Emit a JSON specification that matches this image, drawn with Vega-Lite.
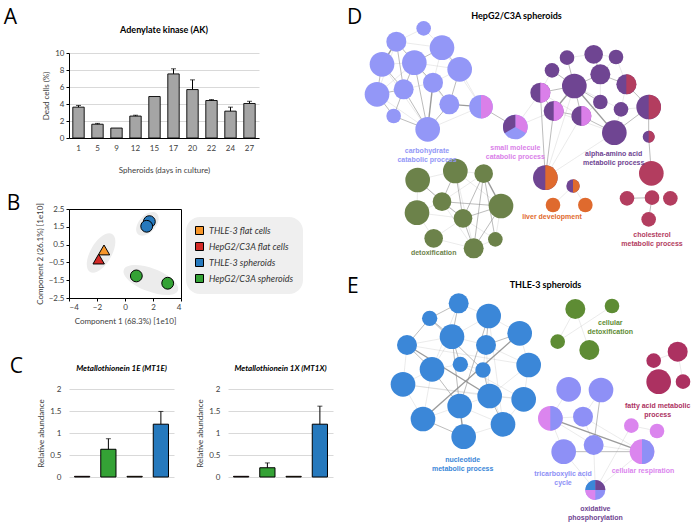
{
"$schema": "https://vega.github.io/schema/vega-lite/v6.json",
"background": "white",
"padding": {"left": 3, "top": 7, "right": 0, "bottom": 0},
"config": {
  "view": {"stroke": null},
  "font": "Lato",
  "axis": {"labelFont": "Lato", "titleFont": "Lato", "labelFontSize": 8, "titleFontSize": 8, "titleFontWeight": "normal", "labelColor": "#404040", "titleColor": "#404040", "labelOverlap": false},
  "title": {"font": "Lato", "color": "black"}
},
"datasets": {
  "ak": [
    {"day": "1", "dead": 3.63, "hi": 3.83},
    {"day": "5", "dead": 1.62, "hi": 1.72},
    {"day": "9", "dead": 1.17, "hi": null},
    {"day": "12", "dead": 2.58, "hi": 2.68},
    {"day": "15", "dead": 4.88, "hi": null},
    {"day": "17", "dead": 7.54, "hi": 8.14},
    {"day": "20", "dead": 5.7, "hi": 6.84},
    {"day": "22", "dead": 4.41, "hi": 4.52},
    {"day": "24", "dead": 3.16, "hi": 3.63},
    {"day": "27", "dead": 4.06, "hi": 4.32}
  ],
  "pca": [
    {"grp": "THLE-3 flat cells", "kind": "flat", "x": -1.5, "y": 0.2},
    {"grp": "HepG2/C3A flat cells", "kind": "flat", "x": -1.88, "y": -0.31},
    {"grp": "THLE-3 spheroids", "kind": "spheroid", "x": 1.74, "y": 1.79},
    {"grp": "THLE-3 spheroids", "kind": "spheroid", "x": 1.55, "y": 1.53},
    {"grp": "HepG2/C3A spheroids", "kind": "spheroid", "x": 0.81, "y": -1.26},
    {"grp": "HepG2/C3A spheroids", "kind": "spheroid", "x": 3.05, "y": -1.67}
  ],
  "ell": [
    {"grp": "tri", "x": -1.71, "y": 0.03},
    {"grp": "blue", "x": 1.6, "y": 1.66},
    {"grp": "green", "x": 1.85, "y": -1.49}
  ],
  "mt": [
    {"gene": "MT1E", "grp": "HepG2/C3A flat cells", "val": 0.015, "hi": null},
    {"gene": "MT1E", "grp": "HepG2/C3A spheroids", "val": 0.63, "hi": 0.87},
    {"gene": "MT1E", "grp": "THLE-3 flat cells", "val": 0.015, "hi": null},
    {"gene": "MT1E", "grp": "THLE-3 spheroids", "val": 1.2, "hi": 1.49},
    {"gene": "MT1X", "grp": "HepG2/C3A flat cells", "val": 0.015, "hi": null},
    {"gene": "MT1X", "grp": "HepG2/C3A spheroids", "val": 0.21, "hi": 0.32},
    {"gene": "MT1X", "grp": "THLE-3 flat cells", "val": 0.015, "hi": null},
    {"gene": "MT1X", "grp": "THLE-3 spheroids", "val": 1.2, "hi": 1.61}
  ],
  "dn": [
    {"id":"c1","x":260,"y":82,"genes":48,"grp":"carb"},
    {"id":"c2","x":178,"y":122,"genes":90,"grp":"carb"},
    {"id":"c3","x":315,"y":140,"genes":137,"grp":"carb"},
    {"id":"c4","x":135,"y":190,"genes":137,"grp":"carb"},
    {"id":"c5","x":232,"y":185,"genes":137,"grp":"carb"},
    {"id":"c6","x":368,"y":205,"genes":137,"grp":"carb"},
    {"id":"c7","x":288,"y":245,"genes":90,"grp":"carb"},
    {"id":"c8","x":200,"y":265,"genes":90,"grp":"carb"},
    {"id":"c9","x":120,"y":280,"genes":137,"grp":"carb"},
    {"id":"c10","x":337,"y":310,"genes":90,"grp":"carb"},
    {"id":"c11","x":170,"y":345,"genes":48,"grp":"carb"},
    {"id":"c12","x":272,"y":385,"genes":137,"grp":"carb"},
    {"id":"c13","x":432,"y":317,"genes":125,"grp":"carb"},
    {"id":"s1","x":535,"y":378,"genes":137,"grp":"carb"},
    {"id":"a1","x":690,"y":170,"genes":48,"grp":"aa"},
    {"id":"a2","x":770,"y":160,"genes":78,"grp":"aa"},
    {"id":"a3","x":837,"y":168,"genes":48,"grp":"aa"},
    {"id":"a4","x":645,"y":208,"genes":48,"grp":"aa"},
    {"id":"a5","x":790,"y":220,"genes":90,"grp":"aa"},
    {"id":"a6","x":712,"y":255,"genes":137,"grp":"aa"},
    {"id":"a7","x":868,"y":250,"genes":90,"grp":"aa"},
    {"id":"a8","x":610,"y":275,"genes":90,"grp":"aa"},
    {"id":"a9","x":790,"y":303,"genes":48,"grp":"aa"},
    {"id":"a10","x":852,"y":325,"genes":48,"grp":"aa"},
    {"id":"a11","x":650,"y":330,"genes":90,"grp":"aa"},
    {"id":"a12","x":733,"y":345,"genes":90,"grp":"aa"},
    {"id":"a13","x":935,"y":318,"genes":137,"grp":"aa"},
    {"id":"a14","x":832,"y":395,"genes":137,"grp":"aa"},
    {"id":"a15","x":935,"y":407,"genes":32,"grp":"aa"},
    {"id":"l1","x":625,"y":530,"genes":137,"grp":"aa"},
    {"id":"l2","x":708,"y":555,"genes":40,"grp":"aa"},
    {"id":"l3","x":648,"y":612,"genes":48,"grp":"liver"},
    {"id":"l4","x":745,"y":612,"genes":48,"grp":"liver"},
    {"id":"h1","x":943,"y":517,"genes":137,"grp":"chol"},
    {"id":"h2","x":870,"y":592,"genes":48,"grp":"chol"},
    {"id":"h3","x":945,"y":590,"genes":48,"grp":"chol"},
    {"id":"h4","x":1000,"y":592,"genes":48,"grp":"chol"},
    {"id":"h5","x":935,"y":655,"genes":48,"grp":"chol"},
    {"id":"g1","x":242,"y":537,"genes":137,"grp":"detox"},
    {"id":"g2","x":355,"y":510,"genes":137,"grp":"detox"},
    {"id":"g3","x":440,"y":518,"genes":78,"grp":"detox"},
    {"id":"g4","x":240,"y":635,"genes":137,"grp":"detox"},
    {"id":"g5","x":315,"y":602,"genes":78,"grp":"detox"},
    {"id":"g6","x":378,"y":652,"genes":78,"grp":"detox"},
    {"id":"g7","x":492,"y":615,"genes":137,"grp":"detox"},
    {"id":"g8","x":290,"y":712,"genes":78,"grp":"detox"},
    {"id":"g9","x":475,"y":715,"genes":48,"grp":"detox"},
    {"id":"g10","x":410,"y":742,"genes":90,"grp":"detox"}
  ],
  "de": [
    {"s":"c1","t":"c2","w":1},{"s":"c1","t":"c3","w":1},{"s":"c2","t":"c3","w":1},{"s":"c2","t":"c4","w":3},
    {"s":"c2","t":"c5","w":2},{"s":"c2","t":"c8","w":2},{"s":"c3","t":"c5","w":2},{"s":"c3","t":"c6","w":2},
    {"s":"c3","t":"c7","w":1},{"s":"c3","t":"c13","w":1},{"s":"c4","t":"c5","w":1},{"s":"c4","t":"c8","w":2},
    {"s":"c4","t":"c9","w":2},{"s":"c4","t":"c12","w":1},{"s":"c5","t":"c6","w":1},{"s":"c5","t":"c7","w":2},
    {"s":"c5","t":"c8","w":2},{"s":"c5","t":"c12","w":2},{"s":"c5","t":"c10","w":1},{"s":"c6","t":"c7","w":1},
    {"s":"c6","t":"c10","w":2},{"s":"c6","t":"c13","w":1},{"s":"c7","t":"c8","w":1},{"s":"c7","t":"c10","w":2},
    {"s":"c7","t":"c12","w":3},{"s":"c8","t":"c9","w":2},{"s":"c8","t":"c11","w":2},{"s":"c8","t":"c12","w":2},
    {"s":"c9","t":"c11","w":2},{"s":"c9","t":"c12","w":1},{"s":"c10","t":"c12","w":2},{"s":"c10","t":"c13","w":3},
    {"s":"c11","t":"c12","w":2},{"s":"c12","t":"c13","w":1},{"s":"c2","t":"c9","w":1},{"s":"c9","t":"c5","w":1},
    {"s":"c13","t":"s1","w":2},{"s":"s1","t":"a8","w":1},{"s":"s1","t":"a11","w":1},
    {"s":"a1","t":"a2","w":1},{"s":"a1","t":"a6","w":2},{"s":"a2","t":"a3","w":1},{"s":"a2","t":"a5","w":2},
    {"s":"a3","t":"a5","w":1},{"s":"a3","t":"a7","w":1},{"s":"a4","t":"a6","w":2},{"s":"a4","t":"a8","w":1},
    {"s":"a5","t":"a6","w":2},{"s":"a5","t":"a7","w":2},{"s":"a5","t":"a9","w":1},{"s":"a6","t":"a8","w":2},
    {"s":"a6","t":"a9","w":2},{"s":"a6","t":"a11","w":3},{"s":"a6","t":"a12","w":2},{"s":"a6","t":"a14","w":3},
    {"s":"a6","t":"a10","w":1},{"s":"a7","t":"a10","w":1},{"s":"a7","t":"a13","w":2},{"s":"a8","t":"a11","w":2},
    {"s":"a8","t":"a12","w":1},{"s":"a9","t":"a12","w":1},{"s":"a10","t":"a13","w":1},{"s":"a10","t":"a14","w":1},
    {"s":"a11","t":"a12","w":2},{"s":"a11","t":"a14","w":1},{"s":"a12","t":"a14","w":2},{"s":"a13","t":"a14","w":2},
    {"s":"a13","t":"a15","w":2},
    {"s":"l1","t":"a8","w":2},{"s":"l1","t":"a11","w":2},{"s":"l1","t":"a12","w":1},{"s":"l1","t":"a14","w":1},
    {"s":"l1","t":"a6","w":1},{"s":"l2","t":"l3","w":1},{"s":"l2","t":"l4","w":1},
    {"s":"a15","t":"h1","w":2},{"s":"h2","t":"h3","w":2},{"s":"h3","t":"h5","w":2},
    {"s":"g1","t":"g2","w":1},{"s":"g1","t":"g4","w":1},{"s":"g1","t":"g5","w":2},{"s":"g2","t":"g3","w":1},
    {"s":"g2","t":"g5","w":2},{"s":"g2","t":"g6","w":2},{"s":"g2","t":"g7","w":1},{"s":"g3","t":"g5","w":1},
    {"s":"g3","t":"g6","w":2},{"s":"g3","t":"g7","w":3},{"s":"g3","t":"g9","w":2},{"s":"g3","t":"g10","w":2},
    {"s":"g4","t":"g5","w":1},{"s":"g4","t":"g8","w":1},{"s":"g4","t":"g6","w":1},{"s":"g5","t":"g6","w":2},
    {"s":"g5","t":"g7","w":2},{"s":"g5","t":"g10","w":1},{"s":"g6","t":"g7","w":2},{"s":"g6","t":"g8","w":1},
    {"s":"g6","t":"g9","w":1},{"s":"g6","t":"g10","w":2},{"s":"g7","t":"g9","w":1},{"s":"g7","t":"g10","w":2},
    {"s":"g8","t":"g10","w":1},{"s":"g9","t":"g10","w":1},{"s":"g1","t":"g6","w":1},{"s":"g2","t":"g10","w":1}
  ],
  "dp": [
    {"id":"c13","part":"R","grp":"smc"},
    {"id":"a7","part":"R","grp":"chol"},
    {"id":"a8","part":"R","grp":"smc"},
    {"id":"a11","part":"R","grp":"smc"},
    {"id":"a12","part":"R","grp":"smc"},
    {"id":"a13","part":"R","grp":"chol"},
    {"id":"a15","part":"R","grp":"chol"},
    {"id":"l1","part":"R","grp":"liver"},
    {"id":"l2","part":"R","grp":"liver"},
    {"id":"s1","part":"W1","grp":"smc"},
    {"id":"s1","part":"W3","grp":"aa"}
  ],
  "dl": [
    {"label":"carbohydrate\ncatabolic process","x":270,"y":450,"grp":"carb"},
    {"label":"small molecule\ncatabolic process","x":535,"y":442,"grp":"smc"},
    {"label":"alpha-amino acid\nmetabolic process","x":830,"y":458,"grp":"aa"},
    {"label":"liver development","x":645,"y":647,"grp":"liver"},
    {"label":"cholesterol\nmetabolic process","x":945,"y":703,"grp":"chol"},
    {"label":"detoxification","x":290,"y":757,"grp":"detox"}
  ],
  "en": [
    {"id":"n1","x":365,"y":100,"genes":90,"grp":"nuc"},
    {"id":"n2","x":278,"y":145,"genes":53,"grp":"nuc"},
    {"id":"n3","x":455,"y":138,"genes":137,"grp":"nuc"},
    {"id":"n4","x":345,"y":200,"genes":137,"grp":"nuc"},
    {"id":"n5","x":210,"y":225,"genes":90,"grp":"nuc"},
    {"id":"n6","x":447,"y":225,"genes":90,"grp":"nuc"},
    {"id":"n7","x":548,"y":190,"genes":137,"grp":"nuc"},
    {"id":"n8","x":370,"y":283,"genes":53,"grp":"nuc"},
    {"id":"n9","x":285,"y":298,"genes":137,"grp":"nuc"},
    {"id":"n10","x":438,"y":300,"genes":53,"grp":"nuc"},
    {"id":"n11","x":575,"y":285,"genes":137,"grp":"nuc"},
    {"id":"n12","x":198,"y":343,"genes":137,"grp":"nuc"},
    {"id":"n13","x":458,"y":378,"genes":137,"grp":"nuc"},
    {"id":"n14","x":368,"y":408,"genes":137,"grp":"nuc"},
    {"id":"n15","x":560,"y":388,"genes":137,"grp":"nuc"},
    {"id":"n16","x":258,"y":447,"genes":137,"grp":"nuc"},
    {"id":"n17","x":498,"y":463,"genes":137,"grp":"nuc"},
    {"id":"n18","x":380,"y":500,"genes":137,"grp":"nuc"},
    {"id":"e1","x":715,"y":117,"genes":90,"grp":"cdetox"},
    {"id":"e2","x":825,"y":108,"genes":48,"grp":"cdetox"},
    {"id":"e3","x":662,"y":215,"genes":48,"grp":"cdetox"},
    {"id":"e4","x":757,"y":240,"genes":90,"grp":"cdetox"},
    {"id":"f1","x":950,"y":272,"genes":48,"grp":"fatty"},
    {"id":"f2","x":1022,"y":245,"genes":90,"grp":"fatty"},
    {"id":"f3","x":965,"y":335,"genes":137,"grp":"fatty"},
    {"id":"f4","x":1038,"y":335,"genes":48,"grp":"fatty"},
    {"id":"t1","x":695,"y":358,"genes":137,"grp":"tca"},
    {"id":"t2","x":792,"y":360,"genes":137,"grp":"tca"},
    {"id":"t3","x":640,"y":445,"genes":137,"grp":"resp"},
    {"id":"t4","x":738,"y":440,"genes":90,"grp":"tca"},
    {"id":"t5","x":680,"y":545,"genes":137,"grp":"tca"},
    {"id":"t6","x":770,"y":525,"genes":90,"grp":"tca"},
    {"id":"r1","x":883,"y":467,"genes":48,"grp":"resp"},
    {"id":"r2","x":960,"y":483,"genes":48,"grp":"resp"},
    {"id":"r3","x":915,"y":545,"genes":137,"grp":"resp"},
    {"id":"o1","x":775,"y":660,"genes":90,"grp":"tca"}
  ],
  "ee": [
    {"s":"n1","t":"n2","w":2},{"s":"n1","t":"n3","w":1},{"s":"n1","t":"n4","w":2},{"s":"n2","t":"n4","w":2},
    {"s":"n2","t":"n5","w":2},{"s":"n3","t":"n4","w":1},{"s":"n3","t":"n6","w":2},{"s":"n3","t":"n7","w":1},
    {"s":"n4","t":"n5","w":1},{"s":"n4","t":"n6","w":1},{"s":"n4","t":"n8","w":2},{"s":"n4","t":"n9","w":1},
    {"s":"n5","t":"n9","w":2},{"s":"n5","t":"n12","w":1},{"s":"n5","t":"n13","w":3},{"s":"n6","t":"n7","w":2},
    {"s":"n6","t":"n10","w":1},{"s":"n6","t":"n11","w":1},{"s":"n7","t":"n11","w":1},{"s":"n7","t":"n16","w":3},
    {"s":"n8","t":"n9","w":1},{"s":"n8","t":"n10","w":1},{"s":"n9","t":"n12","w":1},{"s":"n9","t":"n14","w":2},
    {"s":"n9","t":"n16","w":1},{"s":"n10","t":"n13","w":2},{"s":"n11","t":"n13","w":1},{"s":"n11","t":"n15","w":1},
    {"s":"n12","t":"n16","w":1},{"s":"n13","t":"n14","w":1},{"s":"n13","t":"n15","w":1},{"s":"n13","t":"n17","w":2},
    {"s":"n14","t":"n16","w":1},{"s":"n14","t":"n17","w":1},{"s":"n14","t":"n18","w":3},{"s":"n15","t":"n17","w":1},
    {"s":"n16","t":"n18","w":2},{"s":"n17","t":"n18","w":1},{"s":"n2","t":"n10","w":2},{"s":"n4","t":"n14","w":2},
    {"s":"n3","t":"n14","w":2},{"s":"n1","t":"n9","w":1},{"s":"n6","t":"n13","w":1},{"s":"n12","t":"n13","w":1},
    {"s":"n10","t":"n17","w":1},{"s":"n5","t":"n11","w":1},{"s":"n8","t":"n15","w":1},{"s":"n3","t":"n17","w":1},
    {"s":"n12","t":"n15","w":1},
    {"s":"e1","t":"e3","w":1},{"s":"e1","t":"e4","w":1},{"s":"e2","t":"e3","w":1},
    {"s":"f1","t":"f2","w":1},{"s":"f2","t":"f4","w":1},
    {"s":"t1","t":"t3","w":1},{"s":"t2","t":"t4","w":1},{"s":"t2","t":"t6","w":2},{"s":"t3","t":"t4","w":1},
    {"s":"t3","t":"t5","w":1},{"s":"t3","t":"r3","w":3},{"s":"t4","t":"t6","w":1},{"s":"t5","t":"r3","w":2},
    {"s":"t6","t":"r3","w":1},{"s":"t4","t":"r3","w":1},{"s":"r1","t":"r2","w":1},{"s":"r3","t":"o1","w":1},
    {"s":"t5","t":"o1","w":1},{"s":"t6","t":"o1","w":1},{"s":"r1","t":"o1","w":1},{"s":"t3","t":"t6","w":1}
  ],
  "ep": [
    {"id":"t3","part":"R","grp":"tca"},
    {"id":"r3","part":"R","grp":"tca"},
    {"id":"o1","part":"TL","grp":"nuc"},
    {"id":"o1","part":"TR","grp":"aa"},
    {"id":"o1","part":"BL","grp":"resp"}
  ],
  "el": [
    {"label":"nucleotide\nmetabolic process","x":377,"y":571,"grp":"nuc"},
    {"label":"cellular\ndetoxification","x":820,"y":158,"grp":"cdetox"},
    {"label":"fatty acid metabolic\nprocess","x":962,"y":407,"grp":"fatty"},
    {"label":"tricarboxylic acid\ncycle","x":678,"y":612,"grp":"tca"},
    {"label":"cellular respiration","x":918,"y":602,"grp":"resp"},
    {"label":"oxidative\nphosphorylation","x":775,"y":718,"grp":"oxphos"}
  ]
},
"resolve": {"scale": {"color": "independent", "fill": "independent", "shape": "independent", "size": "independent"}, "legend": {"color": "independent", "fill": "independent"}},
"hconcat": [
  {
    "spacing": 30,
    "resolve": {"scale": {"color": "independent", "fill": "independent", "shape": "independent", "size": "independent"}, "legend": {"color": "independent", "fill": "independent"}},
    "vconcat": [
      {
        "spacing": 19,
        "resolve": {"scale": {"color": "independent", "fill": "independent"}, "legend": {"color": "independent", "fill": "independent"}},
        "vconcat": [
          {
            "title": {"text": "A", "anchor": "start", "fontSize": 21, "fontWeight": "normal", "font": "Open Sans", "dx": -39, "offset": -2},
            "vconcat": [
              {
                "width": 190, "height": 85,
                "title": {"text": "Adenylate kinase (AK)", "fontSize": 9, "fontWeight": "bold", "offset": 14},
                "data": {"name": "ak"},
                "encoding": {
                  "x": {"field": "day", "type": "ordinal", "sort": null, "scale": {"paddingInner": 0.4, "paddingOuter": 0.2},
                        "axis": {"title": "Spheroids (days in culture)", "labelAngle": 0, "domainColor": "black", "ticks": false, "labelPadding": 6, "titlePadding": 14}}
                },
                "layer": [
                  {"mark": {"type": "bar", "fill": "#a5a5a5", "stroke": "black", "strokeWidth": 0.9},
                   "encoding": {"y": {"field": "dead", "type": "quantitative", "scale": {"domain": [0, 10]},
                     "axis": {"title": "Dead cells (%)", "values": [0, 2, 4, 6, 8, 10], "grid": true, "gridColor": "#d9d9d9", "domainColor": "black", "tickColor": "black", "tickSize": 3}}}},
                  {"transform": [{"filter": "isValid(datum.hi)"}],
                   "mark": {"type": "rule", "color": "black", "strokeWidth": 1},
                   "encoding": {"y": {"field": "dead", "type": "quantitative", "scale": {"domain": [0, 10]},
                     "axis": {"title": "Dead cells (%)", "values": [0, 2, 4, 6, 8, 10], "grid": true, "gridColor": "#d9d9d9", "domainColor": "black", "tickColor": "black", "tickSize": 3}}, "y2": {"field": "hi"}}},
                  {"transform": [{"filter": "isValid(datum.hi)"}],
                   "mark": {"type": "tick", "color": "black", "thickness": 1, "size": 5},
                   "encoding": {"y": {"field": "hi", "type": "quantitative", "scale": {"domain": [0, 10]},
                     "axis": {"title": "Dead cells (%)", "values": [0, 2, 4, 6, 8, 10], "grid": true, "gridColor": "#d9d9d9", "domainColor": "black", "tickColor": "black", "tickSize": 3}}}}
                ]
              }
            ]
          },
          {
            "title": {"text": "B", "anchor": "start", "fontSize": 21, "fontWeight": "normal", "font": "Open Sans", "dx": -29, "offset": -12},
            "resolve": {"scale": {"color": "independent"}, "legend": {"color": "independent"}},
            "vconcat": [
              {
                "width": 112, "height": 89,
                "view": {"stroke": "black", "strokeWidth": 1},
                "encoding": {
                  "x": {"field": "x", "type": "quantitative", "scale": {"domain": [-4, 4], "nice": false, "zero": false},
                        "axis": {"title": "Component 1 (68.3%) [1e10]", "values": [-4, -2, 0, 2, 4], "grid": false, "domainColor": "black", "tickColor": "black", "tickSize": 3, "titlePadding": 6}},
                  "y": {"field": "y", "type": "quantitative", "scale": {"domain": [-2.5, 2.5], "nice": false, "zero": false},
                        "axis": {"title": "Component 2 (26.1%) [1e10]", "values": [-2.5, -1.5, -0.5, 0.5, 1.5, 2.5], "format": ".1f", "grid": false, "domainColor": "black", "tickColor": "black", "tickSize": 3}}
                },
                "layer": [
                  {"data": {"name": "ell"}, "transform": [{"filter": "datum.grp == 'tri'"}],
                   "mark": {"type": "point", "filled": true, "color": "#ececec", "opacity": 1, "strokeWidth": 0, "shape": "M-1,0 A1,0.48 0 1 0 1,0 A1,0.48 0 1 0 -1,0 Z", "size": 1936, "angle": 300}},
                  {"data": {"name": "ell"}, "transform": [{"filter": "datum.grp == 'blue'"}],
                   "mark": {"type": "point", "filled": true, "color": "#ececec", "opacity": 1, "strokeWidth": 0, "shape": "M-1,0 A1,0.6 0 1 0 1,0 A1,0.6 0 1 0 -1,0 Z", "size": 784, "angle": 312}},
                  {"data": {"name": "ell"}, "transform": [{"filter": "datum.grp == 'green'"}],
                   "mark": {"type": "point", "filled": true, "color": "#ececec", "opacity": 1, "strokeWidth": 0, "shape": "M-1,0 A1,0.4 0 1 0 1,0 A1,0.4 0 1 0 -1,0 Z", "size": 3364, "angle": 21}},
                  {"data": {"name": "pca"}, "transform": [{"filter": "datum.kind == 'flat'"}],
                   "mark": {"type": "point", "shape": "triangle-up", "filled": true, "opacity": 1, "stroke": "black", "strokeWidth": 1, "size": 130},
                   "encoding": {
                     "color": {"field": "grp", "type": "nominal",
                       "scale": {"domain": ["THLE-3 flat cells", "HepG2/C3A flat cells", "THLE-3 spheroids", "HepG2/C3A spheroids"], "range": ["#f7962a", "#d42a26", "#2679bd", "#34a235"]},
                       "legend": {"title": null, "orient": "none", "legendX": 117, "legendY": 8, "fillColor": "#efefef", "cornerRadius": 14, "padding": 9,
                         "symbolType": "square", "symbolSize": 64, "symbolStrokeColor": "black", "symbolStrokeWidth": 1, "symbolOpacity": 1,
                         "labelFont": "Lato", "labelFontStyle": "italic", "labelFontSize": 9, "labelColor": "#333333", "rowPadding": 3, "labelOffset": 5}}
                   }},
                  {"data": {"name": "pca"}, "transform": [{"filter": "datum.kind == 'spheroid'"}],
                   "mark": {"type": "point", "shape": "circle", "filled": true, "opacity": 1, "stroke": "black", "strokeWidth": 1, "size": 140},
                   "encoding": {
                     "color": {"field": "grp", "type": "nominal",
                       "scale": {"domain": ["THLE-3 flat cells", "HepG2/C3A flat cells", "THLE-3 spheroids", "HepG2/C3A spheroids"], "range": ["#f7962a", "#d42a26", "#2679bd", "#34a235"]}}
                   }}
                ]
              }
            ]
          }
        ]
      },
      {
        "title": {"text": "C", "anchor": "start", "fontSize": 21, "fontWeight": "normal", "font": "Open Sans", "dx": -28, "offset": -12},
        "spacing": 22,
        "hconcat": [
          {
            "width": 105, "height": 88,
            "title": {"text": "Metallothionein 1E (MT1E)", "fontSize": 8, "fontWeight": "bold", "fontStyle": "italic", "offset": 12},
            "data": {"name": "mt"},
            "transform": [{"filter": "datum.gene == 'MT1E'"}],
            "encoding": {"x": {"field": "grp", "type": "nominal", "sort": null, "scale": {"paddingInner": 0.42, "paddingOuter": 0.21}, "axis": null}},
            "layer": [
              {"mark": {"type": "bar", "stroke": "black", "strokeWidth": 1},
               "encoding": {
                 "y": {"field": "val", "type": "quantitative", "scale": {"domain": [0, 2]},
                   "axis": {"title": "Relative abundance", "values": [0, 0.5, 1, 1.5, 2], "format": "~g", "grid": true, "gridColor": "#d9d9d9", "domain": false, "ticks": false, "labelPadding": 8}},
                 "fill": {"field": "grp", "type": "nominal", "scale": {"domain": ["THLE-3 flat cells", "HepG2/C3A flat cells", "THLE-3 spheroids", "HepG2/C3A spheroids"], "range": ["#f7962a", "#d42a26", "#2679bd", "#34a235"]}, "legend": null}}},
              {"transform": [{"filter": "isValid(datum.hi)"}], "mark": {"type": "rule", "color": "black", "strokeWidth": 1},
               "encoding": {"y": {"field": "val", "type": "quantitative", "scale": {"domain": [0, 2]},
                   "axis": {"title": "Relative abundance", "values": [0, 0.5, 1, 1.5, 2], "format": "~g", "grid": true, "gridColor": "#d9d9d9", "domain": false, "ticks": false, "labelPadding": 8}}, "y2": {"field": "hi"}}},
              {"transform": [{"filter": "isValid(datum.hi)"}], "mark": {"type": "tick", "color": "black", "thickness": 1, "size": 5},
               "encoding": {"y": {"field": "hi", "type": "quantitative", "scale": {"domain": [0, 2]},
                   "axis": {"title": "Relative abundance", "values": [0, 0.5, 1, 1.5, 2], "format": "~g", "grid": true, "gridColor": "#d9d9d9", "domain": false, "ticks": false, "labelPadding": 8}}}}
            ]
          },
          {
            "width": 105, "height": 88,
            "title": {"text": "Metallothionein 1X (MT1X)", "fontSize": 8, "fontWeight": "bold", "fontStyle": "italic", "offset": 12},
            "data": {"name": "mt"},
            "transform": [{"filter": "datum.gene == 'MT1X'"}],
            "encoding": {"x": {"field": "grp", "type": "nominal", "sort": null, "scale": {"paddingInner": 0.42, "paddingOuter": 0.21}, "axis": null}},
            "layer": [
              {"mark": {"type": "bar", "stroke": "black", "strokeWidth": 1},
               "encoding": {
                 "y": {"field": "val", "type": "quantitative", "scale": {"domain": [0, 2]},
                   "axis": {"title": "Relative abundance", "values": [0, 0.5, 1, 1.5, 2], "format": "~g", "grid": true, "gridColor": "#d9d9d9", "domain": false, "ticks": false, "labelPadding": 8}},
                 "fill": {"field": "grp", "type": "nominal", "scale": {"domain": ["THLE-3 flat cells", "HepG2/C3A flat cells", "THLE-3 spheroids", "HepG2/C3A spheroids"], "range": ["#f7962a", "#d42a26", "#2679bd", "#34a235"]}, "legend": null}}},
              {"transform": [{"filter": "isValid(datum.hi)"}], "mark": {"type": "rule", "color": "black", "strokeWidth": 1},
               "encoding": {"y": {"field": "val", "type": "quantitative", "scale": {"domain": [0, 2]},
                   "axis": {"title": "Relative abundance", "values": [0, 0.5, 1, 1.5, 2], "format": "~g", "grid": true, "gridColor": "#d9d9d9", "domain": false, "ticks": false, "labelPadding": 8}}, "y2": {"field": "hi"}}},
              {"transform": [{"filter": "isValid(datum.hi)"}], "mark": {"type": "tick", "color": "black", "thickness": 1, "size": 5},
               "encoding": {"y": {"field": "hi", "type": "quantitative", "scale": {"domain": [0, 2]},
                   "axis": {"title": "Relative abundance", "values": [0, 0.5, 1, 1.5, 2], "format": "~g", "grid": true, "gridColor": "#d9d9d9", "domain": false, "ticks": false, "labelPadding": 8}}}}
            ]
          }
        ]
      }
    ]
  },
  {
    "spacing": 15,
    "vconcat": [
      {
        "title": {"text": "D", "anchor": "start", "fontSize": 21, "fontWeight": "normal", "font": "Open Sans", "offset": -16},
        "vconcat": [
          {
            "width": 349, "height": 208,
            "title": {"text": "HepG2/C3A spheroids", "fontSize": 9, "fontWeight": "bold", "dx": -5, "offset": 0},
            "encoding": {
              "x": {"field": "x", "type": "quantitative", "scale": {"domain": [30, 1077], "nice": false, "zero": false}, "axis": null},
              "y": {"field": "y", "type": "quantitative", "scale": {"domain": [156, 780], "nice": false, "zero": false, "reverse": true}, "axis": null}
            },
            "layer": [
              {"data": {"name": "de"},
               "transform": [
                 {"lookup": "s", "from": {"data": {"name": "dn"}, "key": "id", "fields": ["x", "y"]}, "as": ["x", "y"]},
                 {"lookup": "t", "from": {"data": {"name": "dn"}, "key": "id", "fields": ["x", "y"]}, "as": ["x2", "y2"]}
               ],
               "mark": {"type": "rule", "color": "#8a8a8a"},
               "encoding": {
                 "x2": {"field": "x2"}, "y2": {"field": "y2"},
                 "strokeWidth": {"field": "w", "type": "quantitative", "scale": {"domain": [1, 3], "range": [0.5, 1.4]}, "legend": null},
                 "opacity": {"field": "w", "type": "quantitative", "scale": {"domain": [1, 3], "range": [0.35, 0.85]}, "legend": null}
               }},
              {"data": {"name": "dn"},
               "mark": {"type": "point", "shape": "circle", "filled": true, "opacity": 1, "strokeWidth": 0},
               "encoding": {
                 "size": {"field": "genes", "type": "quantitative", "scale": {"domain": [0, 150], "range": [0, 666]}, "legend": null},
                 "fill": {"field": "grp", "type": "nominal", "scale": {"domain": ["carb","smc","aa","liver","chol","detox","nuc","cdetox","fatty","tca","resp","oxphos"], "range": ["#9397f7","#da7fe9","#6f4592","#df6a2e","#b33d5f","#6c824a","#3b87d8","#5e8c34","#ac3161","#8e90f6","#db85ee","#6f4592"]}, "legend": null}
               }},
              {"data": {"name": "dp"},
               "transform": [{"lookup": "id", "from": {"data": {"name": "dn"}, "key": "id", "fields": ["x", "y", "genes"]}}],
               "mark": {"type": "point", "filled": true, "opacity": 1, "strokeWidth": 0},
               "encoding": {
                 "size": {"field": "genes", "type": "quantitative", "scale": {"domain": [0, 150], "range": [0, 666]}, "legend": null},
                 "fill": {"field": "grp", "type": "nominal", "scale": {"domain": ["carb","smc","aa","liver","chol","detox","nuc","cdetox","fatty","tca","resp","oxphos"], "range": ["#9397f7","#da7fe9","#6f4592","#df6a2e","#b33d5f","#6c824a","#3b87d8","#5e8c34","#ac3161","#8e90f6","#db85ee","#6f4592"]}, "legend": null},
                 "shape": {"field": "part", "type": "nominal", "scale": {"domain": ["R","W1","W3","TL","TR","BL"], "range": ["M0,-1 A1,1 0 0 1 0,1 Z","M0,0 L0,-1 A1,1 0 0 1 0.866,0.5 Z","M0,0 L-0.866,0.5 A1,1 0 0 1 0,-1 Z","M0,0 L-1,0 A1,1 0 0 1 0,-1 Z","M0,0 L0,-1 A1,1 0 0 1 1,0 Z","M0,0 L0,1 A1,1 0 0 1 -1,0 Z"]}, "legend": null}
               }},
              {"data": {"name": "dl"},
               "mark": {"type": "text", "font": "Liberation Sans", "fontWeight": "bold", "fontSize": 7, "lineBreak": "\n", "baseline": "middle", "align": "center"},
               "encoding": {
                 "text": {"field": "label"},
                 "fill": {"field": "grp", "type": "nominal", "scale": {"domain": ["carb","smc","aa","liver","chol","detox","nuc","cdetox","fatty","tca","resp","oxphos"], "range": ["#9397f7","#da7fe9","#6f4592","#df6a2e","#b33d5f","#6c824a","#3b87d8","#5e8c34","#ac3161","#8e90f6","#db85ee","#6f4592"]}, "legend": null}
               }}
            ]
          }
        ]
      },
      {
        "title": {"text": "E", "anchor": "start", "fontSize": 21, "fontWeight": "normal", "font": "Open Sans", "offset": -16},
        "vconcat": [
          {
            "width": 349, "height": 241,
            "title": {"text": "THLE-3 spheroids", "fontSize": 9, "fontWeight": "bold", "dx": 24, "offset": 0},
            "encoding": {
              "x": {"field": "x", "type": "quantitative", "scale": {"domain": [30, 1077], "nice": false, "zero": false}, "axis": null},
              "y": {"field": "y", "type": "quantitative", "scale": {"domain": [60, 783], "nice": false, "zero": false, "reverse": true}, "axis": null}
            },
            "layer": [
              {"data": {"name": "ee"},
               "transform": [
                 {"lookup": "s", "from": {"data": {"name": "en"}, "key": "id", "fields": ["x", "y"]}, "as": ["x", "y"]},
                 {"lookup": "t", "from": {"data": {"name": "en"}, "key": "id", "fields": ["x", "y"]}, "as": ["x2", "y2"]}
               ],
               "mark": {"type": "rule", "color": "#8a8a8a"},
               "encoding": {
                 "x2": {"field": "x2"}, "y2": {"field": "y2"},
                 "strokeWidth": {"field": "w", "type": "quantitative", "scale": {"domain": [1, 3], "range": [0.5, 1.4]}, "legend": null},
                 "opacity": {"field": "w", "type": "quantitative", "scale": {"domain": [1, 3], "range": [0.35, 0.85]}, "legend": null}
               }},
              {"data": {"name": "en"},
               "mark": {"type": "point", "shape": "circle", "filled": true, "opacity": 1, "strokeWidth": 0},
               "encoding": {
                 "size": {"field": "genes", "type": "quantitative", "scale": {"domain": [0, 150], "range": [0, 666]}, "legend": null},
                 "fill": {"field": "grp", "type": "nominal", "scale": {"domain": ["carb","smc","aa","liver","chol","detox","nuc","cdetox","fatty","tca","resp","oxphos"], "range": ["#9397f7","#da7fe9","#6f4592","#df6a2e","#b33d5f","#6c824a","#3b87d8","#5e8c34","#ac3161","#8e90f6","#db85ee","#6f4592"]}, "legend": null}
               }},
              {"data": {"name": "ep"},
               "transform": [{"lookup": "id", "from": {"data": {"name": "en"}, "key": "id", "fields": ["x", "y", "genes"]}}],
               "mark": {"type": "point", "filled": true, "opacity": 1, "strokeWidth": 0},
               "encoding": {
                 "size": {"field": "genes", "type": "quantitative", "scale": {"domain": [0, 150], "range": [0, 666]}, "legend": null},
                 "fill": {"field": "grp", "type": "nominal", "scale": {"domain": ["carb","smc","aa","liver","chol","detox","nuc","cdetox","fatty","tca","resp","oxphos"], "range": ["#9397f7","#da7fe9","#6f4592","#df6a2e","#b33d5f","#6c824a","#3b87d8","#5e8c34","#ac3161","#8e90f6","#db85ee","#6f4592"]}, "legend": null},
                 "shape": {"field": "part", "type": "nominal", "scale": {"domain": ["R","W1","W3","TL","TR","BL"], "range": ["M0,-1 A1,1 0 0 1 0,1 Z","M0,0 L0,-1 A1,1 0 0 1 0.866,0.5 Z","M0,0 L-0.866,0.5 A1,1 0 0 1 0,-1 Z","M0,0 L-1,0 A1,1 0 0 1 0,-1 Z","M0,0 L0,-1 A1,1 0 0 1 1,0 Z","M0,0 L0,1 A1,1 0 0 1 -1,0 Z"]}, "legend": null}
               }},
              {"data": {"name": "el"},
               "mark": {"type": "text", "font": "Liberation Sans", "fontWeight": "bold", "fontSize": 7, "lineBreak": "\n", "baseline": "middle", "align": "center"},
               "encoding": {
                 "text": {"field": "label"},
                 "fill": {"field": "grp", "type": "nominal", "scale": {"domain": ["carb","smc","aa","liver","chol","detox","nuc","cdetox","fatty","tca","resp","oxphos"], "range": ["#9397f7","#da7fe9","#6f4592","#df6a2e","#b33d5f","#6c824a","#3b87d8","#5e8c34","#ac3161","#8e90f6","#db85ee","#6f4592"]}, "legend": null}
               }}
            ]
          }
        ]
      }
    ]
  }
],
"spacing": 14
}
